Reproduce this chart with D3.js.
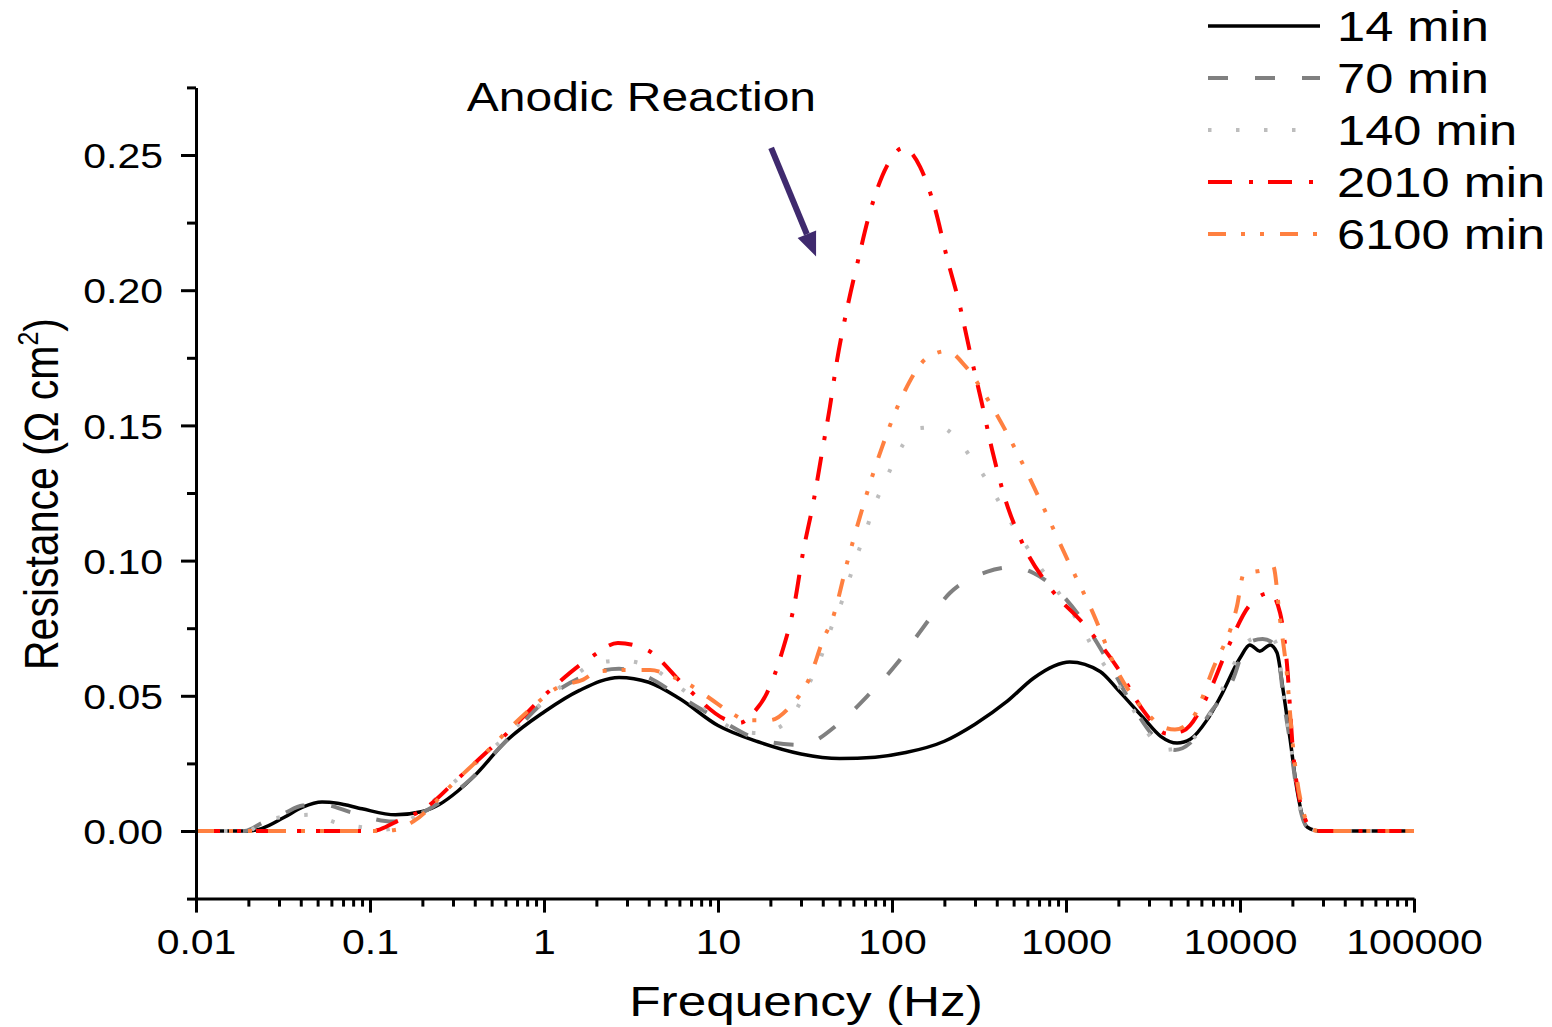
<!DOCTYPE html>
<html>
<head>
<meta charset="utf-8">
<script src="https://cdn.jsdelivr.net/npm/d3@7"></script>
<style>
  body { margin: 0; background: #fff; }
  svg { display: block; }
  text { font-family: "Liberation Sans", Arial, sans-serif; fill: #000; }
</style>
</head>
<body>
<script>
//------------------------------------ data ------------------------------------
// [frequency (Hz), resistance (ohm cm2)]
const min14 = [[0.01,0],[0.02,0],[0.024,0.001],[0.032,0.005],[0.041,0.0088],[0.053,0.0107],[0.065,0.0103],
  [0.09,0.0082],[0.14,0.006],[0.2,0.0072],[0.25,0.0098],[0.32,0.0148],[0.4,0.0205],[0.6,0.033],[1.0,0.044],
  [1.6,0.052],[2.7,0.0568],[4.0,0.055],[6.0,0.049],[10,0.039],[17,0.033],[30,0.0285],[50,0.0268],[80,0.0273],
  [120,0.029],[200,0.0332],[300,0.0395],[460,0.048],[650,0.0565],[850,0.061],[1050,0.0625],[1570,0.059],[2000,0.052],
  [2770,0.042],[3500,0.035],[4350,0.0325],[5200,0.034],[6450,0.041],[7700,0.0495],[10000,0.064],[11400,0.0688],
  [13000,0.0665],[14900,0.0688],[16300,0.066],[17700,0.052],[19400,0.034],[21300,0.015],[24300,0.0015],
  [28800,0],[100000,0]];

const min70 = [[0.01,0],[0.019,0],[0.024,0.003],[0.032,0.0065],[0.041,0.0094],[0.053,0.0098],[0.077,0.007],
  [0.1,0.0048],[0.135,0.0035],[0.18,0.0055],[0.23,0.009],[0.376,0.019],[0.56,0.031],[1.2,0.052],[2.0,0.0588],
  [2.7,0.060],[3.7,0.0577],[6.3,0.049],[10.3,0.041],[17.4,0.0337],[30,0.0318],[50,0.040],[75,0.051],[107,0.062],
  [150,0.075],[215,0.088],[350,0.0958],[500,0.0976],[650,0.0954],[1010,0.0854],[1430,0.072],[1860,0.0595],
  [2430,0.046],[3340,0.0337],[4230,0.030],[5160,0.0325],[6720,0.0436],[9100,0.056],[11000,0.0695],[13500,0.071],
  [15500,0.0695],[17000,0.060],[17700,0.050],[19400,0.033],[21300,0.014],[24300,0.0015],[28800,0],[100000,0]];

const min140 = [[0.01,0],[0.02,0],[0.024,0.0035],[0.03,0.005],[0.046,0.006],[0.065,0.003],[0.094,0.0012],
  [0.12,0.0005],[0.15,0.002],[0.194,0.007],[0.316,0.019],[0.56,0.033],[1.0,0.048],[1.47,0.057],[1.96,0.062],
  [2.8,0.063],[4.07,0.0607],[5.5,0.055],[7.1,0.0496],[9.4,0.043],[12,0.038],[17,0.0362],[22.7,0.0385],
  [28.5,0.0455],[32.5,0.053],[37.1,0.0607],[41.8,0.0695],[45.8,0.077],[51.6,0.085],[57.4,0.094],[63,0.102],
  [70,0.110],[77.8,0.119],[87.7,0.127],[100,0.135],[116,0.143],[145,0.149],[189,0.1494],[236,0.145],[292,0.137],
  [356,0.129],[418,0.121],[495,0.113],[597,0.105],[709,0.0976],[865,0.090],[1236,0.075],[1430,0.0677],
  [1960,0.0547],[2330,0.047],[2920,0.0366],[3700,0.030],[4500,0.031],[6130,0.0385],[7980,0.053],[11400,0.0706],
  [13500,0.0717],[15500,0.071],[17000,0.062],[17700,0.051],[19400,0.034],[21300,0.014],[24300,0.0015],
  [28800,0],[100000,0]];

const min2010 = [[0.01,0],[0.1,0],[0.11,0.0003],[0.142,0.0035],[0.177,0.006],[0.213,0.009],[0.316,0.019],
  [0.43,0.027],[0.61,0.036],[1.04,0.051],[1.84,0.064],[2.66,0.0695],[3.9,0.067],[6.6,0.053],[11.3,0.041],
  [13.4,0.040],[15.9,0.0436],[19.1,0.051],[23.3,0.066],[27.7,0.085],[30.8,0.103],[35.2,0.121],[39.6,0.14],
  [44,0.157],[48.3,0.174],[55.1,0.193],[63.8,0.211],[74.8,0.229],[93.6,0.246],[116,0.2526],[145,0.2456],
  [177,0.23],[207,0.212],[246,0.194],[281,0.177],[329,0.158],[376,0.141],[446,0.123],[566,0.106],[809,0.090],
  [1285,0.076],[1960,0.0607],[2770,0.0447],[3800,0.036],[4700,0.037],[6720,0.052],[8410,0.067],[11400,0.0836],
  [14900,0.088],[17000,0.0806],[18600,0.062],[20200,0.029],[22100,0.011],[26300,0.0004],[28800,0],[100000,0]];

const min6100 = [[0.01,0],[0.11,0],[0.139,0.0004],[0.177,0.0035],[0.316,0.019],[0.43,0.027],[0.83,0.045],
  [1.19,0.053],[1.68,0.056],[2.05,0.059],[2.84,0.0595],[4.07,0.0595],[5.5,0.057],[6.9,0.054],[9,0.049],
  [11.7,0.044],[14.7,0.041],[19.9,0.041],[25.9,0.046],[33.8,0.057],[40.1,0.0706],[45.8,0.079],[55.1,0.099],
  [68.1,0.12],[87.7,0.142],[119,0.163],[159,0.175],[207,0.1775],[263,0.172],[352,0.16],[523,0.14],[738,0.12],
  [1026,0.100],[1430,0.0806],[1960,0.0595],[2920,0.0436],[3610,0.0385],[4230,0.0375],[5370,0.042],[7000,0.06],
  [9600,0.083],[10500,0.095],[13500,0.0965],[15500,0.098],[17000,0.078],[18600,0.058],[19900,0.035],
  [22100,0.0126],[26300,0.0004],[28800,0],[100000,0]];

const seriesNames = ["14 min", "70 min", "140 min", "2010 min", "6100 min"];
const xTicks = [0.01, 0.1, 1, 10, 100, 1000, 10000, 100000];
const xTickLabels = ["0.01", "0.1", "1", "10", "100", "1000", "10000", "100000"];
const yTicks = [0, 0.05, 0.10, 0.15, 0.20, 0.25];
const yTickLabels = ["0.00", "0.05", "0.10", "0.15", "0.20", "0.25"];

//------------------------------------ init ------------------------------------
const width = 1552, height = 1027;
const S = 1.17; // horizontal stretch of the lettering

const xScale = d3.scaleLog().domain([0.01, 100000]).range([196, 1414]);
const yScale = d3.scaleLinear().domain([-0.025, 0.275]).range([898.6, 87.4]);

const styles = [
  {data: min14,   color: "#000000", dash: null,                 w: 3.5},
  {data: min70,   color: "#808080", dash: "20,27",              w: 4},
  {data: min140,  color: "#BDBDBD", dash: "3.5,24.5",           w: 4},
  {data: min2010, color: "#FF0000", dash: "24,17,4,15",         w: 4},
  {data: min6100, color: "#FF8040", dash: "18,15,4,15,4,16",    w: 4}
];

const svg = d3.select("body").append("svg")
  .attr("width", width)
  .attr("height", height);

//------------------------------------ curves ----------------------------------
const line = d3.line()
  .x(d => xScale(d[0]))
  .y(d => yScale(d[1]))
  .curve(d3.curveMonotoneX);

styles.forEach(s => {
  svg.append("path")
    .attr("d", line(s.data))
    .attr("fill", "none")
    .attr("stroke", s.color)
    .attr("stroke-width", s.w)
    .attr("stroke-dasharray", s.dash)
    .attr("stroke-linejoin", "round");
});

//------------------------------------ axes ------------------------------------
const xMinor = [];
for (let e = -2; e < 5; e++) for (let k = 2; k <= 9; k++) xMinor.push(k * Math.pow(10, e));
const yMinor = [-0.025, 0.025, 0.075, 0.125, 0.175, 0.225, 0.275];

const xAxis = svg.append("g")
  .attr("transform", `translate(0,${yScale(-0.025)})`)
  .call(d3.axisBottom(xScale).tickValues(xTicks).tickSize(14).tickSizeOuter(0)
    .tickFormat((d, i) => xTickLabels[i]));
svg.append("g")
  .attr("transform", `translate(0,${yScale(-0.025)})`)
  .call(d3.axisBottom(xScale).tickValues(xMinor).tickSize(8).tickFormat(""))
  .call(g => g.select(".domain").remove());

const yAxis = svg.append("g")
  .attr("transform", `translate(${xScale(0.01)},0)`)
  .call(d3.axisLeft(yScale).tickValues(yTicks).tickSize(15).tickSizeOuter(0)
    .tickFormat((d, i) => yTickLabels[i]));
svg.append("g")
  .attr("transform", `translate(${xScale(0.01)},0)`)
  .call(d3.axisLeft(yScale).tickValues(yMinor).tickSize(9).tickFormat(""))
  .call(g => g.select(".domain").remove());

svg.selectAll(".domain, .tick line")
  .attr("stroke", "#000")
  .attr("stroke-width", 3);

xAxis.selectAll(".tick text")
  .attr("font-size", 35)
  .attr("font-family", null)
  .attr("y", 55).attr("dy", 0)
  .attr("transform", `scale(${S},1)`);

yAxis.selectAll(".tick text")
  .attr("font-size", 35)
  .attr("font-family", null)
  .attr("x", -33 / S).attr("dy", "0.36em")
  .attr("transform", `scale(${S},1)`);

// axis titles
svg.append("text")
  .attr("transform", `translate(806,1016) scale(${S * 1.02},1)`)
  .attr("text-anchor", "middle")
  .attr("font-size", 43)
  .text("Frequency (Hz)");

const yTitle = svg.append("text")
  .attr("transform", `translate(58,494) scale(${S},1) rotate(-90)`)
  .attr("text-anchor", "middle")
  .attr("font-size", 41);
yTitle.append("tspan").text("Resistance (Ω cm");
yTitle.append("tspan").attr("font-size", 25).attr("dy", -17).text("2");
yTitle.append("tspan").attr("dy", 17).text(")");

//------------------------------------ legend ----------------------------------
const legend = svg.append("g");
seriesNames.forEach((name, i) => {
  const yy = 26 + i * 52;
  legend.append("line")
    .attr("x1", 1208).attr("x2", 1320)
    .attr("y1", yy).attr("y2", yy)
    .attr("stroke", styles[i].color)
    .attr("stroke-width", styles[i].w)
    .attr("stroke-dasharray", styles[i].dash);
  legend.append("text")
    .attr("transform", `translate(1337,${yy + 15}) scale(${S * 1.03},1)`)
    .attr("font-size", 42)
    .text(name);
});

//------------------------------------ annotation ------------------------------
svg.append("text")
  .attr("transform", `translate(${xScale(0.36)},${yScale(0.2663)}) scale(${S},1)`)
  .attr("font-size", 41)
  .text("Anodic Reaction");

const arrowColor = "#3F2A6E";
const a0 = [xScale(20.2), yScale(0.2526)], a1 = [xScale(36.6), yScale(0.2125)];
const ang = Math.atan2(a1[1] - a0[1], a1[0] - a0[0]);
const headLen = 24, headW = 10;
const base = [a1[0] - headLen * Math.cos(ang), a1[1] - headLen * Math.sin(ang)];
svg.append("line")
  .attr("x1", a0[0]).attr("y1", a0[1])
  .attr("x2", base[0]).attr("y2", base[1])
  .attr("stroke", arrowColor)
  .attr("stroke-width", 6);
svg.append("path")
  .attr("d", `M${a1[0]},${a1[1]}
    L${base[0] + headW * Math.sin(ang)},${base[1] - headW * Math.cos(ang)}
    L${base[0] - headW * Math.sin(ang)},${base[1] + headW * Math.cos(ang)}Z`)
  .attr("fill", arrowColor);
</script>
</body>
</html>
